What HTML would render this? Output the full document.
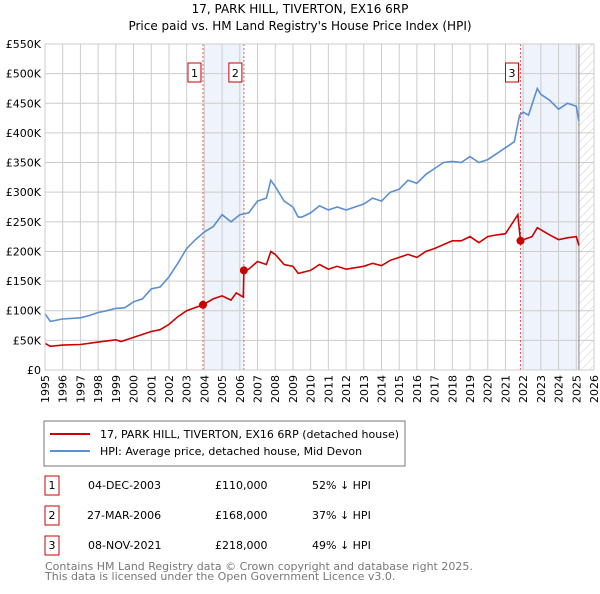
<!DOCTYPE html>
<html><head><meta charset="utf-8"><style>
body{margin:0;background:#fff;font-family:"DejaVu Sans","Liberation Sans",sans-serif;}
svg text{font-family:"DejaVu Sans","Liberation Sans",sans-serif;}
</style></head><body>
<svg id="c" width="600" height="590" viewBox="0 0 600 590" xmlns="http://www.w3.org/2000/svg">
<defs><pattern id="hatch" width="6" height="6" patternUnits="userSpaceOnUse" patternTransform="rotate(45)"><line x1="0" y1="0" x2="0" y2="6" stroke="#ccc" stroke-width="1"/></pattern></defs>
<text x="300" y="13" text-anchor="middle" font-size="12">17, PARK HILL, TIVERTON, EX16 6RP</text>
<text x="300" y="30" text-anchor="middle" font-size="12">Price paid vs. HM Land Registry's House Price Index (HPI)</text>
<g id="plot"></g>
<rect x="44" y="421" width="361" height="45" fill="#fff" stroke="#777"/>
<line x1="50" y1="434" x2="90" y2="434" stroke="#cc0000" stroke-width="2"/>
<text x="100" y="438" font-size="11">17, PARK HILL, TIVERTON, EX16 6RP (detached house)</text>
<line x1="50" y1="451" x2="90" y2="451" stroke="#5b8fd0" stroke-width="2"/>
<text x="100" y="455" font-size="11">HPI: Average price, detached house, Mid Devon</text>
<g font-size="11">
<rect x="45" y="476" width="14" height="19" fill="#fff" stroke="#cc0000"/><text x="52" y="489" text-anchor="middle">1</text>
<text x="88" y="489">04-DEC-2003</text><text x="215" y="489">£110,000</text><text x="312" y="489">52% ↓ HPI</text>
<rect x="45" y="506" width="14" height="19" fill="#fff" stroke="#cc0000"/><text x="52" y="519" text-anchor="middle">2</text>
<text x="87" y="519">27-MAR-2006</text><text x="215" y="519">£168,000</text><text x="312" y="519">37% ↓ HPI</text>
<rect x="45" y="536" width="14" height="19" fill="#fff" stroke="#cc0000"/><text x="52" y="549" text-anchor="middle">3</text>
<text x="88" y="549">08-NOV-2021</text><text x="215" y="549">£218,000</text><text x="312" y="549">49% ↓ HPI</text>
</g>
<text x="45" y="570" font-size="11" fill="#777">Contains HM Land Registry data © Crown copyright and database right 2025.</text>
<text x="45" y="580" font-size="11" fill="#777">This data is licensed under the Open Government Licence v3.0.</text>
</svg>
<script>
const yTicks=[0,50,100,150,200,250,300,350,400,450,500,550];
const yTickLabels=["£0","£50K","£100K","£150K","£200K","£250K","£300K","£350K","£400K","£450K","£500K","£550K"];
const xYears=[1995,1996,1997,1998,1999,2000,2001,2002,2003,2004,2005,2006,2007,2008,2009,2010,2011,2012,2013,2014,2015,2016,2017,2018,2019,2020,2021,2022,2023,2024,2025,2026];
const hpiT=[1995,1995.3,1996,1997,1997.5,1998,1998.5,1999,1999.5,2000,2000.5,2001,2001.5,2002,2002.5,2003,2003.5,2004,2004.5,2005,2005.5,2006,2006.5,2007,2007.5,2007.75,2008,2008.5,2009,2009.3,2009.5,2010,2010.5,2011,2011.5,2012,2012.5,2013,2013.5,2014,2014.5,2015,2015.5,2016,2016.5,2017,2017.5,2018,2018.5,2019,2019.5,2020,2020.5,2021,2021.5,2021.8,2022,2022.3,2022.8,2023,2023.5,2024,2024.5,2025,2025.15];
const hpiV=[95,82,86,88,92,97,100,104,105,115,120,137,140,157,180,205,220,233,242,262,250,262,265,285,290,320,310,285,275,258,258,265,277,270,275,270,275,280,290,285,300,305,320,315,330,340,350,352,350,360,350,355,365,375,385,430,435,430,475,465,455,440,450,445,420];
const redT=[1995,1995.3,1996,1997,1998,1999,1999.3,2000,2001,2001.5,2002,2002.5,2003,2003.92,2004.5,2005,2005.5,2005.8,2006.2,2006.23,2006.5,2007,2007.5,2007.75,2008,2008.5,2009,2009.3,2010,2010.5,2011,2011.5,2012,2013,2013.5,2014,2014.5,2015,2015.5,2016,2016.5,2017,2018,2018.5,2019,2019.5,2020,2020.5,2021,2021.7,2021.85,2022.5,2022.8,2023.5,2024,2024.5,2025,2025.15];
const redV=[45,40,42,43,47,51,48,55,65,68,77,90,100,110,120,125,118,130,123,168,170,183,178,200,195,178,175,163,168,178,170,175,170,175,180,176,185,190,195,190,200,205,218,218,225,215,225,228,230,262,218,225,240,228,220,223,225,210];
const saleT=[2003.92,2006.23,2021.85];
const saleV=[110,168,218];
const saleLabels=["1","2","3"];
const NS="http://www.w3.org/2000/svg";
const X0=45,X1=594,Y0=370,Y1=44;
function xs(t){return X0+(t-1995)/(2026-1995)*(X1-X0);}
function ys(v){return Y0-v/550*(Y0-Y1);}
const g=document.getElementById('plot');
function mk(tag,attrs){const e=document.createElementNS(NS,tag);for(const k in attrs)e.setAttribute(k,attrs[k]);g.appendChild(e);return e;}
// shaded regions
let r=mk('rect',{x:xs(saleT[0]),y:Y1,width:xs(saleT[1])-xs(saleT[0]),height:Y0-Y1,fill:'#eef3fc'});


r=mk('rect',{x:xs(saleT[2]),y:Y1,width:xs(2025.15)-xs(saleT[2]),height:Y0-Y1,fill:'#eef3fc'});


r=mk('rect',{x:xs(2025.15),y:Y1,width:xs(2026)-xs(2025.15),height:Y0-Y1,fill:'url(#hatch)'});


// grid
yTicks.forEach((v,i)=>{
 const l=mk('line',{x1:X0,x2:X1,y1:ys(v),y2:ys(v),stroke:'#ccc'});
 
 
 const t=mk('text',{x:X0-4,y:ys(v)+4,'text-anchor':'end','font-size':'11'});
 t.textContent=yTickLabels[i];
 
 
});
xYears.forEach(yr=>{
 const l=mk('line',{x1:xs(yr),x2:xs(yr),y1:Y1,y2:Y0,stroke:'#ccc'});
 
 
 const t=mk('text',{x:0,y:0,'font-size':'11','text-anchor':'end',transform:`translate(${xs(yr)+4},${Y0+5}) rotate(-90)`});
 t.textContent=yr;
 
 
});
const bl=mk('line',{x1:xs(2025.15),x2:xs(2025.15),y1:Y1,y2:Y0,stroke:'#888'});


// sale lines
saleT.forEach((t,i)=>{
 const l=mk('line',{x1:xs(t),x2:xs(t),y1:Y1,y2:Y0,stroke:'#e06060','stroke-dasharray':'2,2'});
 
 
 const bx=mk('rect',{x:xs(t)-15,y:63,width:13,height:19,fill:'#fff',stroke:'#cc0000'});
 
 
 const tx=mk('text',{x:xs(t)-8.5,y:77,'text-anchor':'middle','font-size':'11'});
 tx.textContent=saleLabels[i];
 
 
});
function path(T,V){return T.map((t,i)=>(i?'L':'M')+xs(t).toFixed(1)+','+ys(V[i]).toFixed(1)).join('');}
const hp=mk('path',{d:path(hpiT,hpiV),fill:'none',stroke:'#5b8fd0','stroke-width':'1.6'});


const rp=mk('path',{d:path(redT,redV),fill:'none',stroke:'#cc0000','stroke-width':'1.6'});


saleT.forEach((t,i)=>{
 const c=mk('circle',{cx:xs(t),cy:ys(saleV[i]),r:4,fill:'#cc0000'});
 
 
});
const fr=mk('rect',{x:X0,y:Y1,width:X1-X0,height:Y0-Y1,fill:'none',stroke:'#ccc'});


</script>
</body></html>
